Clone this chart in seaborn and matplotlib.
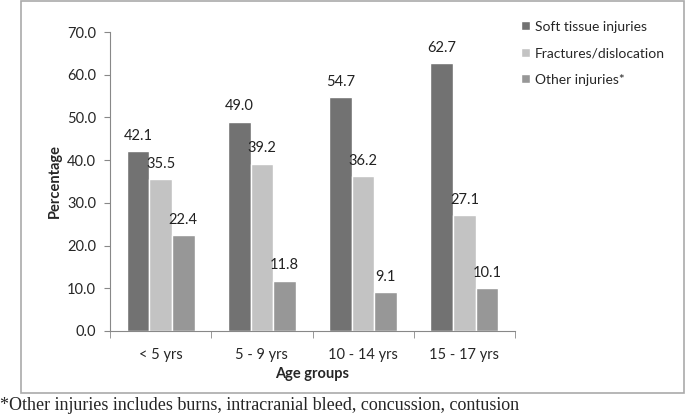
import pandas as pd
import seaborn as sns
import matplotlib.pyplot as plt
from matplotlib.patches import Rectangle

# data
age_groups = ['< 5 yrs', '5 - 9 yrs', '10 - 14 yrs', '15 - 17 yrs']
soft_tissue = [42.1, 49.0, 54.7, 62.7]
fractures = [35.5, 39.2, 36.2, 27.1]
other = [22.4, 11.8, 9.1, 10.1]
series = ['Soft tissue injuries', 'Fractures/dislocation', 'Other injuries*']
colors = ['#727272', '#c3c3c3', '#979797']

df = pd.DataFrame({
    'age': age_groups * 3,
    'injury': [s for s in series for _ in age_groups],
    'pct': soft_tissue + fractures + other,
})

sns.set_style('white')
plt.rcParams['font.family'] = ['Lato', 'DejaVu Sans']

fig = plt.figure(figsize=(6.85, 4.16), dpi=100)
ax = fig.add_axes([110 / 685, 1 - 331 / 416, 405 / 685, 299 / 416])

sns.barplot(data=df, x='age', y='pct', hue='injury', hue_order=series,
            palette=colors, width=0.67, saturation=1, ax=ax)

for cont in ax.containers:
    ax.bar_label(cont, fmt='%.1f', padding=6, fontsize=10.5, color='#222222')

ax.set_ylim(0, 70)
ax.set_yticks(range(0, 71, 10))
ax.set_yticklabels([f'{v:.1f}' for v in range(0, 71, 10)], fontsize=10.5)
ax.set_xlim(-0.5, 3.5)
ax.set_xticks([0, 1, 2, 3])
ax.set_xticklabels(age_groups, fontsize=10.5)
ax.tick_params(axis='x', length=0, pad=12)
ax.tick_params(axis='y', length=4, color='#888888', left=True, pad=6)
# Excel-style ticks between the groups
ax.set_xticks([-0.5, 0.5, 1.5, 2.5, 3.5], minor=True)
ax.tick_params(axis='x', which='minor', length=5, color='#888888', bottom=True)

ax.set_xlabel('Age groups', fontsize=10.5, fontweight='bold', labelpad=4)
ax.set_ylabel('Percentage', fontsize=10.5, fontweight='bold', labelpad=4)

for side in ['top', 'right']:
    ax.spines[side].set_visible(False)
for side in ['left', 'bottom']:
    ax.spines[side].set_color('#888888')

leg = ax.legend(loc='upper left', bbox_to_anchor=(0.985, 1.08), frameon=False,
                fontsize=10, handlelength=0.6, handleheight=0.6,
                handletextpad=0.35, labelspacing=1.05)

# outer frame around the chart
fig.add_artist(Rectangle((21 / 685, 1 - 393 / 416), 663 / 685, 392 / 416,
                         transform=fig.transFigure, fill=False,
                         edgecolor='#aaaaaa', linewidth=1.2))

fig.text(0.0, 1 - 405 / 416, '*Other injuries includes burns, intracranial bleed, concussion, contusion',
         fontsize=13, family='Liberation Serif', va='center', ha='left')

fig.savefig('out.png', dpi=100)
